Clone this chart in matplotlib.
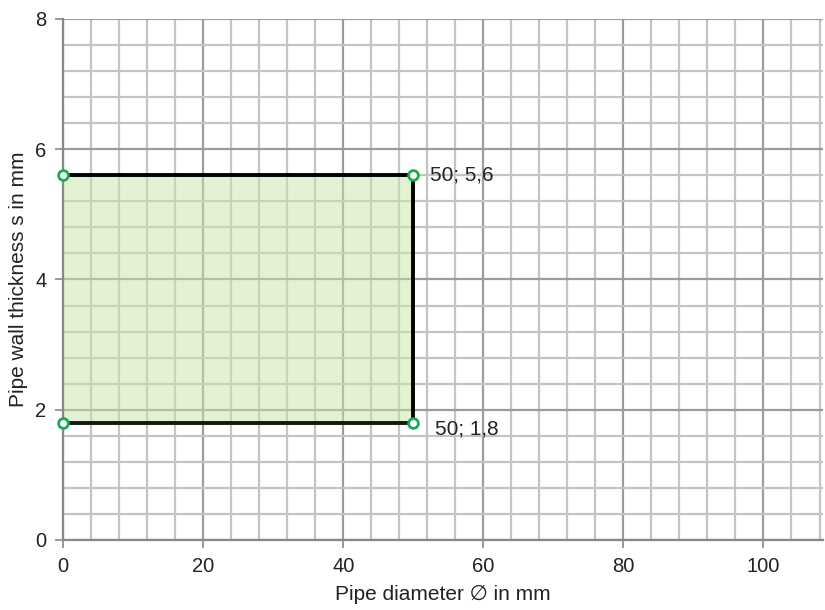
import matplotlib
matplotlib.use("Agg")
import matplotlib.pyplot as plt
from matplotlib.ticker import MultipleLocator

plt.rcParams['font.family'] = ['Liberation Sans', 'DejaVu Sans']

diam = [0, 50, 50, 0]
thick = [1.8, 1.8, 5.6, 5.6]
labels = ["50; 5,6", "50; 1,8"]
label_pts = [(50, 5.6), (50, 1.8)]

fig = plt.figure(figsize=(8.25, 6.10), dpi=100)
ax = fig.add_axes([0.0764, 0.1148, 0.9212, 0.8541])
ax.set_xlim(0, 108.5)
ax.set_ylim(0, 8)
ax.xaxis.set_major_locator(MultipleLocator(20))
ax.xaxis.set_minor_locator(MultipleLocator(4))
ax.yaxis.set_major_locator(MultipleLocator(2))
ax.yaxis.set_minor_locator(MultipleLocator(0.4))
ax.grid(which='major', color='#9c9c9c', linewidth=1.6, zorder=0)
ax.grid(which='minor', color='#c4c4c4', linewidth=1.6, zorder=0)
ax.set_axisbelow(True)
for s in ['top', 'right']:
    ax.spines[s].set_visible(False)
for s in ['left', 'bottom']:
    ax.spines[s].set_color('#888888')
    ax.spines[s].set_linewidth(1.6)
ax.tick_params(which='major', length=6, width=1.2, color='#888888', labelsize=14.5,
               labelcolor='#222222')
ax.tick_params(axis='x', which='major', pad=6.5)
ax.tick_params(axis='y', which='major', pad=6)
ax.tick_params(which='minor', length=0)

ax.fill(diam, thick, color='#c9e6a8', alpha=0.5, zorder=2, linewidth=0)
# edges: bottom, right, top
ax.plot([diam[0], diam[1]], [thick[0], thick[1]], color='#101a10', linewidth=2.8, zorder=3)
ax.plot([diam[1], diam[2]], [thick[1], thick[2]], color='black', linewidth=2.8, zorder=3)
ax.plot([diam[2], diam[3]], [thick[2], thick[3]], color='black', linewidth=2.8, zorder=3)
ax.plot(diam, thick, linestyle='none', marker='o', markersize=7, markerfacecolor='white',
        markeredgecolor='#1aaa55', markeredgewidth=2, zorder=4, clip_on=False)

ax.annotate(labels[0], xy=label_pts[0], xytext=(12, 0), textcoords='offset points',
            va='center', ha='left', fontsize=15, color='#222222')
ax.annotate(labels[1], xy=label_pts[1], xytext=(15.5, -4.5), textcoords='offset points',
            va='center', ha='left', fontsize=15, color='#222222')

ax.set_xlabel('Pipe diameter ∅ in mm', fontsize=15, labelpad=6, color='#222222')
ax.set_ylabel('Pipe wall thickness s in mm', fontsize=15, labelpad=5, color='#222222')

fig.savefig('out.png', dpi=100)
